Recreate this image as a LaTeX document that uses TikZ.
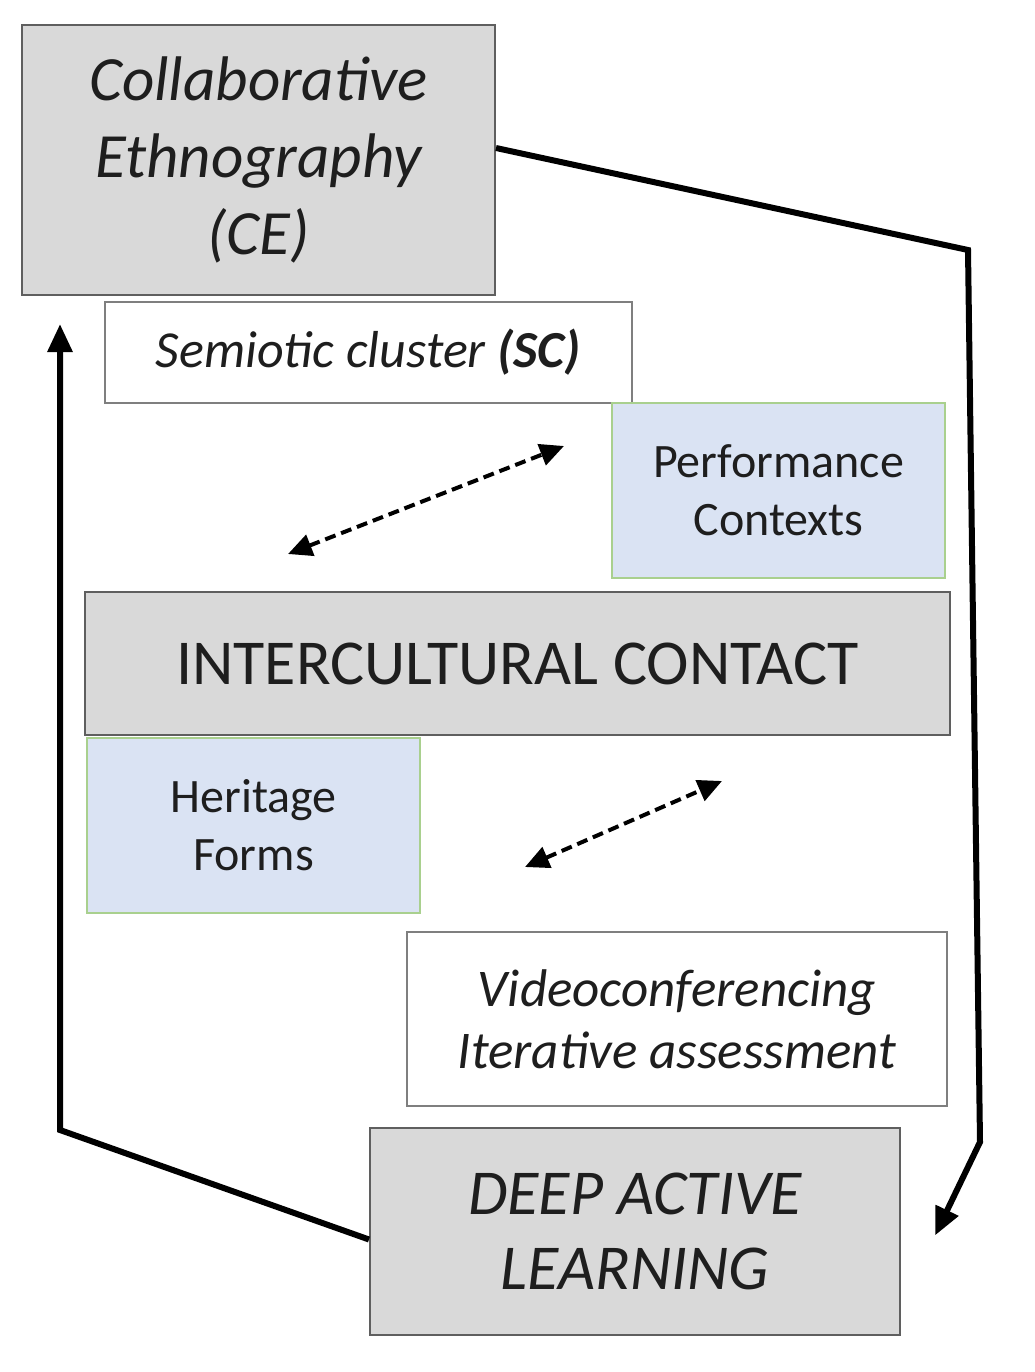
\documentclass[tikz,border=0pt]{standalone}
\usepackage{fontspec}
\setmainfont{Carlito}
\usepackage{tikz}
\usetikzlibrary{arrows.meta}

\definecolor{boxgray}{HTML}{D9D9D9}
\definecolor{edgegray}{HTML}{5F5F5F}
\definecolor{boxblue}{HTML}{DAE3F3}
\definecolor{edgegreen}{HTML}{A9D08E}
\definecolor{txt}{HTML}{1E1E1E}

\tikzset{
  graybox/.style={draw=edgegray, fill=boxgray, line width=2pt, text=txt, align=center, inner sep=0pt},
  whitebox/.style={draw=edgegray!80, fill=white, line width=2pt, text=txt, align=center, inner sep=0pt},
  bluebox/.style={draw=edgegreen, fill=boxblue, line width=2pt, text=txt, align=center, inner sep=0pt},
  loopline/.style={line width=6pt, line join=miter, -{Triangle[length=28pt,width=24pt]}},
  linkline/.style={line width=4pt, dash pattern=on 11pt off 6pt, {Triangle[length=24pt,width=22pt]}-{Triangle[length=24pt,width=22pt]}}
}

\begin{document}
\begin{tikzpicture}[x=1pt,y=-1pt]
    \useasboundingbox (0,0) rectangle (1034,1372);

    % 大きい枠
    \node[graybox, minimum width=473pt, minimum height=270pt,
          font=\itshape\fontsize{63}{77}\selectfont] (ce) at (258.5,160)
          {Collaborative\\Ethnography\\(CE)};
    \node[graybox, minimum width=865pt, minimum height=143pt,
          font=\fontsize{64}{70}\selectfont] (ic) at (517.5,663.5)
          {INTERCULTURAL CONTACT};
    \node[graybox, minimum width=530pt, minimum height=207pt,
          font=\itshape\fontsize{64}{75}\selectfont] (dal) at (635,1231.5)
          {DEEP ACTIVE\\LEARNING};

    % 白い枠
    \node[whitebox, minimum width=527pt, minimum height=101pt,
          font=\itshape\fontsize{52}{60}\selectfont] (sc) at (368.5,352.5)
          {Semiotic cluster \textbf{(SC)}};
    \node[whitebox, minimum width=540pt, minimum height=174pt,
          font=\itshape\fontsize{53}{62}\selectfont] (vc) at (677,1019)
          {Videoconferencing\\Iterative assessment};

    % 青い枠
    \node[bluebox, minimum width=333pt, minimum height=175pt,
          font=\fontsize{48}{58}\selectfont] (pc) at (778.5,490.5)
          {Performance\\Contexts};
    \node[bluebox, minimum width=333pt, minimum height=175pt,
          font=\fontsize{48}{58}\selectfont] (hf) at (253.5,825.5)
          {Heritage\\Forms};

    % 外側の矢印
    \coordinate (rtop) at (968,250);
    \coordinate (rbot) at (980,1142);
    \coordinate (lbot) at (60,1130);
    \coordinate (ltop) at (60,324);
    \draw[loopline] ([yshift=12pt]ce.east) -- (rtop) -- (rbot) -- ([xshift=34pt,yshift=-4pt]dal.east);
    \draw[loopline] ([yshift=-8pt]dal.west) -- (lbot) -- (ltop);

    % 点線の矢印
    \coordinate (d1a) at (288,554);
    \coordinate (d1b) at (564,446);
    \coordinate (d2a) at (525,867);
    \coordinate (d2b) at (722,781);
    \draw[linkline] (d1a) -- (d1b);
    \draw[linkline] (d2a) -- (d2b);
\end{tikzpicture}
\end{document}
